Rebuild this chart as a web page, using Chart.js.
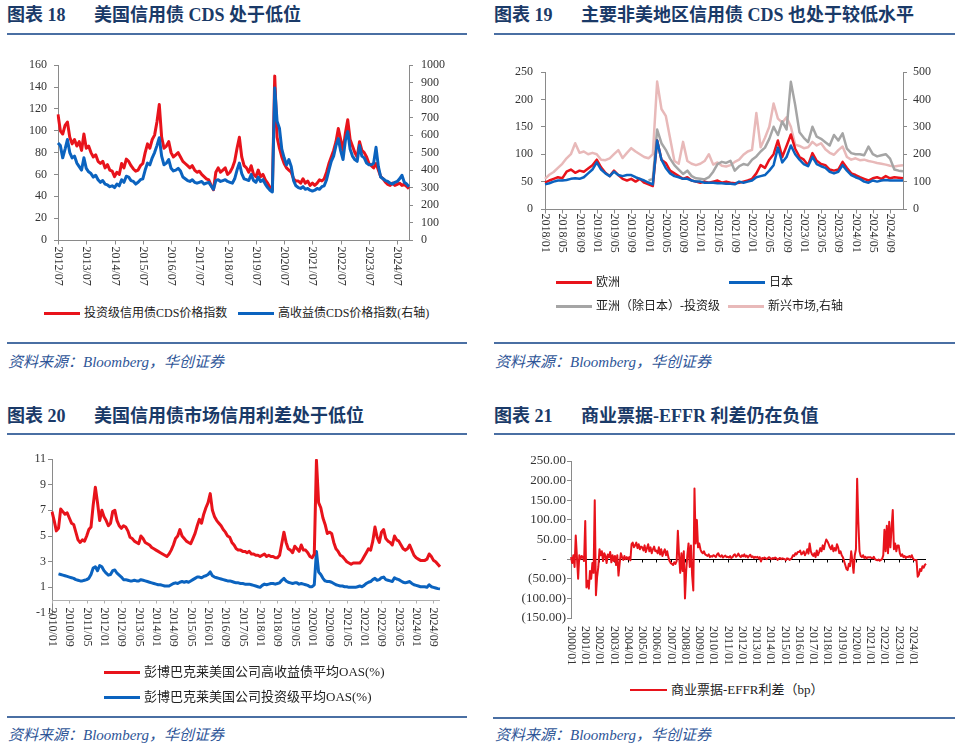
<!DOCTYPE html>
<html>
<head>
<meta charset="utf-8">
<script src="https://cdn.jsdelivr.net/npm/chart.js@4.4.1/dist/chart.umd.min.js"></script>
<style>
body{margin:0;background:#fff;}
#page{position:relative;width:960px;height:751px;overflow:hidden;font-family:'Liberation Serif','Noto Sans CJK SC',serif;}
.t{position:absolute;font-weight:bold;font-size:18px;line-height:18px;color:#1a3a68;white-space:nowrap;}
.rule{position:absolute;height:2px;background:#4a6fa3;}
.src{position:absolute;font-style:italic;font-size:15px;line-height:16px;color:#2e5597;white-space:nowrap;}
.lg{position:absolute;font-size:13px;line-height:14px;color:#222;white-space:nowrap;}
.lg i{display:inline-block;width:36px;height:3px;vertical-align:middle;margin-right:4px;position:relative;top:-1px;}
.lg.s{font-size:12px;}
canvas{position:absolute;}
</style>
</head>
<body>
<div id="page">
  <div class="t" style="left:7px;top:6px">图表 18</div>
  <div class="t" style="left:94px;top:6px">美国信用债 CDS 处于低位</div>
  <div class="rule" style="left:7px;top:33px;width:460px"></div>
  <canvas id="c1" width="480" height="250" style="left:0;top:50px"></canvas>
  <div class="lg s" style="left:44px;top:306px"><i style="background:#e8131b"></i>投资级信用债CDS价格指数</div>
  <div class="lg s" style="left:238px;top:306px"><i style="background:#0b63bf"></i>高收益债CDS价格指数(右轴)</div>
  <div class="rule" style="left:7px;top:342px;width:460px"></div>
  <div class="src" style="left:8px;top:354px">资料来源：Bloomberg，华创证券</div>

  <div class="t" style="left:494px;top:6px">图表 19</div>
  <div class="t" style="left:581px;top:6px">主要非美地区信用债 CDS 也处于较低水平</div>
  <div class="rule" style="left:494px;top:33px;width:461px"></div>
  <canvas id="c2" width="480" height="250" style="left:480px;top:50px"></canvas>
  <div class="lg s" style="left:556px;top:275px"><i style="background:#e8131b"></i>欧洲</div>
  <div class="lg s" style="left:729px;top:275px"><i style="background:#0b63bf"></i>日本</div>
  <div class="lg s" style="left:556px;top:299px"><i style="background:#a5a5a5"></i>亚洲（除日本）-投资级</div>
  <div class="lg s" style="left:728px;top:299px"><i style="background:#e8b9b9"></i>新兴市场,右轴</div>
  <div class="rule" style="left:494px;top:342px;width:461px"></div>
  <div class="src" style="left:495px;top:354px">资料来源：Bloomberg，华创证券</div>

  <div class="t" style="left:7px;top:407px">图表 20</div>
  <div class="t" style="left:94px;top:407px">美国信用债市场信用利差处于低位</div>
  <div class="rule" style="left:7px;top:433px;width:460px"></div>
  <canvas id="c3" width="480" height="240" style="left:0;top:440px"></canvas>
  <div class="lg" style="left:104px;top:665px"><i style="background:#e8131b"></i>彭博巴克莱美国公司高收益债平均OAS(%)</div>
  <div class="lg" style="left:104px;top:690px"><i style="background:#0b63bf"></i>彭博巴克莱美国公司投资级平均OAS(%)</div>
  <div class="rule" style="left:7px;top:716px;width:460px"></div>
  <div class="src" style="left:8px;top:727px">资料来源：Bloomberg，华创证券</div>

  <div class="t" style="left:494px;top:407px">图表 21</div>
  <div class="t" style="left:581px;top:407px">商业票据-EFFR 利差仍在负值</div>
  <div class="rule" style="left:494px;top:433px;width:461px"></div>
  <canvas id="c4" width="480" height="240" style="left:480px;top:440px"></canvas>
  <div class="lg" style="left:630px;top:683px"><i style="background:#e8131b;width:37px;height:2px"></i>商业票据-EFFR利差（bp）</div>
  <div class="rule" style="left:493px;top:717px;width:462px"></div>
  <div class="src" style="left:495px;top:727px">资料来源：Bloomberg，华创证券</div>
</div>
<script>
function months(y, m, n) {
  var out = [];
  for (var i = 0; i < n; i++) {
    out.push(y + '/' + (m < 10 ? '0' + m : m));
    m++;
    if (m > 12) { m = 1; y++; }
  }
  return out;
}

// chart 18: US CDS, monthly 2012/07 - 2024/12
var cdsMonths = months(2012, 7, 150);
var cdsTicks = ['2012/07','2013/07','2014/07','2015/07','2016/07','2017/07','2018/07','2019/07','2020/07','2021/07','2022/07','2023/07','2024/07'];
var igCds = [
  115,100,97,105,108,94,
  88,92,86,90,82,97,84,86,80,76,78,72,
  70,72,66,69,64,63,58,62,60,70,66,74,
  72,68,65,63,64,68,70,80,88,84,92,96,
  108,124,94,84,86,90,80,76,78,80,76,72,
  70,68,66,68,64,62,63,60,58,56,55,50,
  46,62,66,62,64,66,60,62,66,72,84,94,
  76,68,66,62,68,60,58,64,58,60,55,52,
  48,46,150,94,84,76,70,66,64,62,56,54,
  54,52,56,52,54,50,52,50,52,55,54,56,
  62,70,76,82,90,102,92,82,98,110,92,86,
  80,76,90,82,80,76,70,68,66,70,64,58,
  56,53,51,50,52,50,51,52,50,51,49,47
];
var hyCds = [
  555,540,470,520,575,500,
  470,480,440,420,400,470,410,390,380,360,370,345,
  330,340,320,315,305,310,300,320,310,345,330,365,
  360,340,335,320,330,345,350,400,440,430,470,500,
  540,585,480,430,440,460,410,395,400,410,395,360,
  350,340,335,345,330,325,330,335,320,325,330,310,
  290,340,345,335,340,345,335,330,325,350,400,440,
  380,350,345,340,375,340,330,360,335,345,320,300,
  285,275,870,680,640,520,470,430,460,420,340,310,
  300,295,305,290,295,285,280,285,295,290,305,310,
  345,400,450,480,540,580,510,460,570,620,520,480,
  460,450,540,480,470,440,430,430,440,530,420,360,
  350,340,335,325,320,330,335,350,370,330,320,305
];

// chart 19: regional CDS, monthly 2018/01 - 2024/12
var regionMonths = months(2018, 1, 84);
var regionTicks = ['2018/01','2018/05','2018/09','2019/01','2019/05','2019/09','2020/01','2020/05','2020/09','2021/01','2021/05','2021/09','2022/01','2022/05','2022/09','2023/01','2023/05','2023/09','2024/01','2024/05','2024/09'];
var eurCds = [
  48,52,55,58,56,68,72,66,70,68,74,80,
  90,76,66,60,70,62,55,52,55,50,55,48,
  45,42,125,90,84,70,65,60,55,58,52,50,
  48,50,48,50,52,48,50,48,47,48,50,52,
  55,65,80,75,90,100,125,95,115,136,110,95,
  90,80,102,88,82,80,72,70,72,86,75,65,
  62,58,55,52,56,58,55,60,56,58,57,56
];
var jpnCds = [
  45,47,50,52,52,53,55,56,55,58,65,72,
  85,72,65,60,68,62,60,62,62,58,55,52,
  48,45,125,90,75,65,60,58,55,55,52,50,
  50,48,48,48,47,47,46,46,45,50,48,50,
  52,58,60,62,70,80,112,85,95,116,100,90,
  82,78,95,82,78,75,68,65,68,80,70,62,
  58,55,50,48,52,50,52,53,52,52,52,52
];
var asiaIgCds = [
  null,null,null,null,null,null,null,null,null,null,null,null,
  null,null,null,null,null,null,null,null,null,null,null,null,
  52,55,145,120,108,92,80,72,64,70,60,56,
  55,54,58,68,82,86,84,88,70,78,82,80,
  90,96,105,112,128,150,135,160,145,232,190,140,
  130,122,150,132,128,122,116,135,125,138,110,102,
  100,100,98,114,100,96,98,100,92,72,70,69
];
var emCds = [
  110,125,135,150,165,185,200,240,205,210,200,205,
  200,180,178,185,200,215,186,205,222,210,200,190,
  185,200,465,365,340,258,175,165,245,175,165,160,
  165,175,200,162,170,158,155,160,172,180,198,210,
  216,350,225,260,300,385,330,315,335,300,235,230,
  222,225,245,232,240,218,205,198,215,228,190,180,
  185,178,180,175,172,168,165,162,158,155,158,160
];

// chart 20: US OAS, monthly 2010/01 - 2024/12
var oasMonths = months(2010, 1, 180);
var oasTicks = ['2010/01','2010/09','2011/05','2012/01','2012/09','2013/05','2014/01','2014/09','2015/05','2016/01','2016/09','2017/05','2018/01','2018/09','2019/05','2020/01','2020/09','2021/05','2022/01','2022/09','2023/05','2024/01','2024/09'];
var hyOas = [
  6.9,6.2,5.4,5.6,7.1,6.9,6.7,6.8,6.4,6.0,5.9,5.3,
  4.7,4.5,4.7,4.6,5.0,5.5,5.7,7.4,8.8,7.6,6.2,7.0,
  6.5,6.2,5.8,6.0,6.9,7.0,6.2,5.8,5.6,5.8,5.7,5.4,
  4.9,4.8,4.6,4.5,4.4,5.0,4.8,4.5,4.4,4.3,4.1,4.0,
  3.9,3.8,3.7,3.6,3.5,3.4,3.6,3.9,4.3,4.8,5.0,5.5,
  5.0,4.8,4.6,4.5,4.4,4.8,5.2,5.8,6.3,6.0,6.7,7.2,
  7.6,8.3,7.0,6.5,6.2,6.0,5.8,5.5,5.3,5.0,4.9,4.5,
  4.3,4.0,3.9,3.9,3.8,3.8,3.7,3.8,3.6,3.6,3.5,3.5,
  3.4,3.5,3.6,3.4,3.5,3.4,3.4,3.3,3.3,3.5,4.4,5.3,
  4.5,4.0,3.9,3.7,4.2,4.0,3.8,4.3,3.9,3.9,3.7,3.4,
  3.3,3.6,10.9,7.6,7.2,6.4,5.9,5.2,5.3,5.2,4.5,4.0,
  3.8,3.5,3.4,3.2,3.0,2.9,2.8,2.9,2.9,2.9,2.9,3.1,
  3.4,3.7,4.0,3.9,4.6,5.7,4.9,4.5,5.3,5.5,4.8,4.6,
  4.5,4.3,5.0,4.7,4.6,4.3,4.0,3.9,4.0,4.3,3.9,3.5,
  3.3,3.2,3.1,3.1,3.1,3.2,3.6,3.4,3.1,3.0,2.8,2.6
];
var igOas = [
  null,null,null,2.05,2.0,1.95,1.9,1.85,1.8,1.75,1.7,1.6,
  1.55,1.5,1.5,1.55,1.6,1.7,2.0,2.5,2.6,2.3,2.7,2.6,
  2.3,2.1,1.95,2.0,2.3,2.35,2.1,1.95,1.8,1.6,1.6,1.55,
  1.5,1.5,1.55,1.5,1.5,1.6,1.55,1.5,1.45,1.4,1.35,1.3,
  1.25,1.2,1.2,1.15,1.1,1.1,1.1,1.2,1.3,1.35,1.3,1.4,
  1.45,1.4,1.45,1.4,1.5,1.6,1.7,1.8,1.8,1.75,1.85,1.9,
  2.0,2.2,1.9,1.8,1.75,1.7,1.65,1.6,1.55,1.5,1.5,1.45,
  1.4,1.35,1.35,1.3,1.3,1.25,1.25,1.25,1.2,1.15,1.1,1.05,
  1.0,1.15,1.25,1.2,1.25,1.3,1.3,1.25,1.3,1.35,1.55,1.7,
  1.5,1.4,1.35,1.3,1.35,1.35,1.25,1.3,1.25,1.2,1.15,1.05,
  1.05,1.2,3.8,2.2,2.0,1.7,1.5,1.45,1.45,1.4,1.3,1.2,
  1.15,1.1,1.1,1.05,1.05,1.0,1.0,1.0,1.0,1.05,1.1,1.05,
  1.15,1.3,1.4,1.45,1.6,1.7,1.55,1.6,1.75,1.8,1.6,1.55,
  1.5,1.45,1.75,1.65,1.6,1.5,1.4,1.35,1.4,1.45,1.3,1.2,
  1.15,1.1,1.05,1.05,1.05,1.0,1.2,1.05,1.0,0.95,0.9,0.88
];

// chart 21: CP - EFFR spread (bp), monthly 2000/01 - 2024/12
var cpMonths = months(2000, 1, 300);
var cpTicks = ['2000/01','2001/01','2002/01','2003/01','2004/01','2005/01','2006/01','2007/01','2008/01','2009/01','2010/01','2011/01','2012/01','2013/01','2014/01','2015/01','2016/01','2017/01','2018/01','2019/01','2020/01','2021/01','2022/01','2023/01','2024/01'];
var cpSpread = [
  5,-10,10,-20,60,5,-50,10,0,8,5,-5,
  97,-72,-55,-75,-30,-50,-10,-35,150,-92,-45,-20,
  25,10,20,-5,15,8,-10,12,5,18,-8,10,
  -5,8,-15,10,-42,-10,15,5,-2,8,0,5,
  0,5,-3,38,42,30,35,42,28,38,25,32,
  30,22,35,18,28,38,20,30,15,25,32,20,
  22,15,30,12,25,8,18,25,10,20,5,-5,
  -10,-12,-15,-8,-12,-5,72,10,-35,15,-30,20,
  -100,-30,10,40,-20,35,-40,-80,180,40,100,30,
  40,25,18,15,20,12,10,8,12,5,8,6,
  10,8,5,12,15,8,6,10,4,7,9,5,
  6,4,8,3,5,10,12,6,9,14,8,5,
  10,7,12,6,9,4,8,11,5,7,3,6,
  4,6,2,5,-6,3,1,4,2,0,3,5,
  2,0,3,1,4,2,-2,1,3,0,2,1,
  0,-3,2,1,-2,0,3,10,8,15,12,18,
  18,22,12,15,20,10,16,25,14,40,20,12,
  8,15,5,22,10,18,28,20,35,25,40,50,
  45,38,30,25,35,20,28,22,38,30,15,20,
  10,5,-5,-15,-25,-28,-12,-18,20,-5,-35,10,
  25,205,95,20,8,5,10,3,6,2,5,4,
  5,3,2,6,0,-2,-3,-1,-4,-2,0,10,
  75,20,85,15,95,30,80,125,25,40,20,35,
  35,15,8,12,5,8,3,6,5,8,4,10,
  2,-2,-3,-2,-45,-40,-25,-30,-18,-22,-15,-12
];

var serif = "'Liberation Serif', 'Times New Roman', serif";
var axisGrey = '#8a8a8a';
var RED = '#e8131b', BLUE = '#0b63bf', GREY = '#a5a5a5', PINK = '#e8b9b9';

// x axis with labels rotated clockwise, drawn from the category scale
var downAxis = {
  id: 'downAxis',
  beforeDatasetsDraw: function(chart, args, o) {
    var ctx = chart.ctx, a = chart.chartArea;
    var xs = chart.scales.x, ys = chart.scales.y;
    var lineY = Math.round(o.lineAt == null ? a.bottom : ys.getPixelForValue(o.lineAt)) + 0.5;
    var textY = (o.textFrom === 'bottom' ? a.bottom : lineY) + o.gap;
    ctx.save();
    ctx.lineWidth = 1;
    ctx.strokeStyle = o.lineColor;
    ctx.beginPath(); ctx.moveTo(a.left, lineY); ctx.lineTo(a.right, lineY); ctx.stroke();
    ctx.font = '12px ' + serif;
    ctx.fillStyle = '#333';
    ctx.textAlign = 'left';
    ctx.textBaseline = 'middle';
    chart.data.labels.forEach(function(lab, i) {
      if (o.ticks.indexOf(lab) < 0) return;
      var px = Math.round(xs.getPixelForValue(i)) + 0.5;
      ctx.strokeStyle = o.tickColor;
      ctx.beginPath(); ctx.moveTo(px, lineY); ctx.lineTo(px, lineY + o.tickLen); ctx.stroke();
      ctx.save();
      ctx.translate(px, textY);
      ctx.rotate(Math.PI / 2);
      ctx.fillText(lab, 0, 0);
      ctx.restore();
    });
    ctx.restore();
  }
};

function plain(v) { return String(v); }

function yAxis(pos, min, max, step, pad, width, size, cb) {
  return {
    position: pos, min: min, max: max,
    ticks: {stepSize: step, padding: pad, color: '#333', font: {family: serif, size: size}, callback: cb || plain},
    grid: {drawOnChartArea: false, tickLength: 4, color: axisGrey},
    border: {color: axisGrey},
    afterFit: function(s) { s.width = width; }
  };
}

function baseOptions(padding, axisOpts, scales) {
  return {
    responsive: false, animation: false, events: [],
    layout: {padding: padding},
    elements: {point: {radius: 0}, line: {tension: 0, borderJoinStyle: 'round', fill: false}},
    plugins: {legend: {display: false}, tooltip: {enabled: false}, downAxis: axisOpts},
    scales: scales
  };
}

new Chart(document.getElementById('c1'), {
  type: 'line',
  data: {labels: cdsMonths, datasets: [
    {label: '高收益债CDS价格指数(右轴)', data: hyCds, yAxisID: 'y1', borderColor: BLUE, borderWidth: 3, order: 0},
    {label: '投资级信用债CDS价格指数', data: igCds, yAxisID: 'y', borderColor: RED, borderWidth: 3, order: 1}
  ]},
  options: baseOptions({top: 12, bottom: 60, left: 0, right: 0},
    {ticks: cdsTicks, gap: 6, tickLen: 4, lineColor: axisGrey, tickColor: axisGrey},
    {x: {display: false},
     y: yAxis('left', 0, 160, 20, 7, 58, 12),
     y1: yAxis('right', 0, 1000, 100, 8, 71, 12)}),
  plugins: [downAxis]
});

new Chart(document.getElementById('c2'), {
  type: 'line',
  data: {labels: regionMonths, datasets: [
    {label: '日本', data: jpnCds, yAxisID: 'y', borderColor: BLUE, borderWidth: 2.5, order: 0},
    {label: '欧洲', data: eurCds, yAxisID: 'y', borderColor: RED, borderWidth: 2.5, order: 1},
    {label: '亚洲（除日本）-投资级', data: asiaIgCds, yAxisID: 'y', borderColor: GREY, borderWidth: 2.5, order: 2},
    {label: '新兴市场,右轴', data: emCds, yAxisID: 'y1', borderColor: PINK, borderWidth: 2.5, order: 3}
  ]},
  options: baseOptions({top: 22, bottom: 91, left: 0, right: 0},
    {ticks: regionTicks, gap: 4, tickLen: 4, lineColor: axisGrey, tickColor: axisGrey},
    {x: {display: false},
     y: yAxis('left', 0, 250, 50, 8, 65, 12),
     y1: yAxis('right', 0, 500, 100, 6, 57, 12)}),
  plugins: [downAxis]
});

new Chart(document.getElementById('c3'), {
  type: 'line',
  data: {labels: oasMonths, datasets: [
    {label: '彭博巴克莱美国公司高收益债平均OAS(%)', data: hyOas, borderColor: RED, borderWidth: 3},
    {label: '彭博巴克莱美国公司投资级平均OAS(%)', data: igOas, borderColor: BLUE, borderWidth: 3}
  ]},
  options: baseOptions({top: 19, bottom: 67, left: 0, right: 40},
    {ticks: oasTicks, lineAt: 0, gap: 7, tickLen: 3, lineColor: '#b0b0b0', tickColor: '#b0b0b0'},
    {x: {display: false},
     y: yAxis('left', -1, 11, 2, 2, 52, 12)}),
  plugins: [downAxis]
});

new Chart(document.getElementById('c4'), {
  type: 'line',
  data: {labels: cpMonths, datasets: [
    {label: '商业票据-EFFR利差（bp）', data: cpSpread, borderColor: RED, borderWidth: 2}
  ]},
  options: baseOptions({top: 21, bottom: 62, left: 0, right: 34},
    {ticks: cpTicks, lineAt: 0, textFrom: 'bottom', gap: 8, tickLen: 3, lineColor: '#000', tickColor: '#000'},
    {x: {display: false},
     y: yAxis('left', -150, 250, 50, 1, 91, 13, function(v) {
       if (v === 0) return '-      ';
       return v < 0 ? '(' + (-v).toFixed(2) + ')' : v.toFixed(2);
     })}),
  plugins: [downAxis]
});
</script>
</body>
</html>
